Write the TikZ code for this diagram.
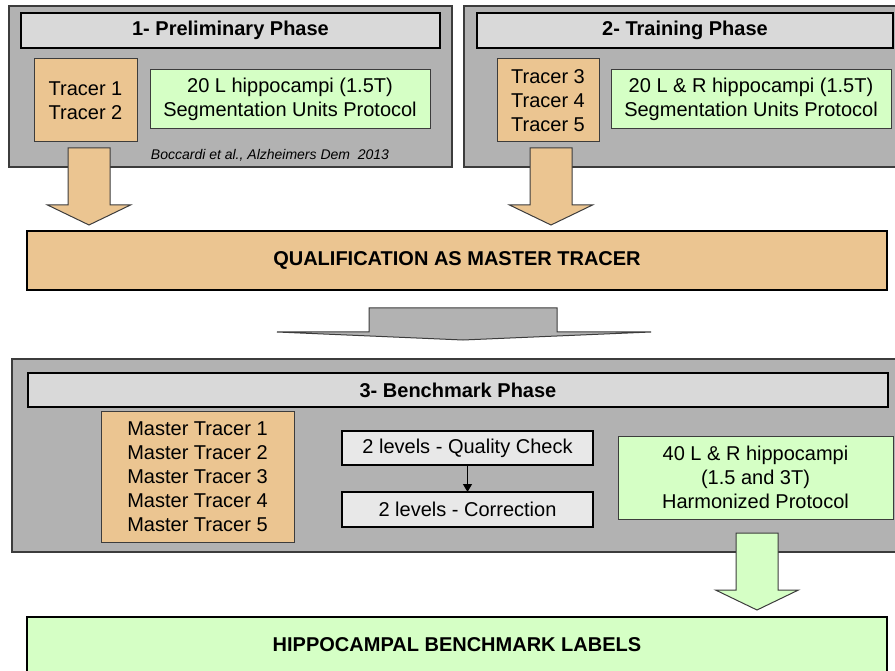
\documentclass[tikz,border=0pt]{standalone}
\usepackage{fontspec}
\setmainfont{Liberation Sans}
\usetikzlibrary{positioning,arrows.meta}

\definecolor{panelgray}  {RGB}{178,178,178}
\definecolor{bargray}    {RGB}{217,217,217}
\definecolor{boxgray}    {RGB}{232,232,232}
\definecolor{tracertan}  {RGB}{235,197,145}
\definecolor{labelgreen} {RGB}{213,255,197}
\definecolor{edgegray}   {RGB}{60 ,60 ,60 }

\begin{document}
\begin{tikzpicture}[
    x=1pt, y=-1pt,
    font={\fontsize{20}{24}\selectfont},
    every node/.style={inner sep=0pt, outer sep=0pt},
    panel/.style={draw=edgegray, line width=1.2pt, fill=panelgray},
    bar/.style={draw=black, line width=2pt, fill=bargray,
                font={\fontsize{20}{24}\selectfont\bfseries}},
    tracer/.style={draw=edgegray, line width=1pt, fill=tracertan, align=center},
    dataset/.style={draw=edgegray, line width=1pt, fill=labelgreen, align=center},
    check/.style={draw=black, line width=1.6pt, fill=boxgray},
    band/.style={draw=black, line width=1.2pt,
                 font={\fontsize{20}{24}\selectfont\bfseries}},
    pics/blockdown/.style={code={
        \draw[pic actions] (-21,0) -- (21,0) -- (21,57) -- (41.5,57)
            -- (0,77) -- (-41.5,57) -- (-21,57) -- cycle;}},
]
    \useasboundingbox (0,0) rectangle (895,671);

    % phase 1
    \node[panel, minimum width=443, minimum height=161] (prelim) at (230.5,86.5) {};
    \node[bar, minimum width=419, minimum height=35]    (prelimbar) at (230.5,30.5) {1- Preliminary Phase};
    \node[tracer, minimum width=103, minimum height=83] (tr12) at (85.5,100.5) {Tracer 1\\Tracer 2};
    \node[dataset, minimum width=280, minimum height=59, right=13pt of tr12, yshift=1pt] (set20l)
        {20 L hippocampi (1.5T)\\Segmentation Units Protocol};
    \node[font={\fontsize{14}{16}\selectfont\itshape}] (cite) at (270,155)
        {Boccardi et al., Alzheimers Dem\ \ 2013};

    % phase 2
    \node[panel, minimum width=436, minimum height=161] (train) at (682,86.5) {};
    \node[bar, minimum width=416, minimum height=35]    (trainbar) at (685,30.5) {2- Training Phase};
    \node[tracer, minimum width=102, minimum height=83] (tr345) at (548,100.5) {Tracer 3\\Tracer 4\\Tracer 5};
    \node[dataset, minimum width=280, minimum height=59, right=12pt of tr345, yshift=1pt] (set20lr)
        {20 L \& R hippocampi (1.5T)\\Segmentation Units Protocol};

    % qualification
    \node[band, fill=tracertan, minimum width=860, minimum height=59] (qual) at (457,260.5)
        {QUALIFICATION AS MASTER TRACER};
    \pic[draw=edgegray, fill=tracertan, line width=1pt] at (89,148)  {blockdown};
    \pic[draw=edgegray, fill=tracertan, line width=1pt] at (551,148) {blockdown};

    \draw[draw=edgegray, fill=panelgray, line width=1pt]
        (369,308) -- (557,308) -- (557,332) -- (651,332)
        -- (463,340) -- (277,332) -- (369,332) -- cycle;

    % phase 3
    \node[panel, minimum width=888, minimum height=193] (bench) at (456,455.5) {};
    \node[bar, minimum width=860, minimum height=34]    (benchbar) at (458,390) {3- Benchmark Phase};
    \node[tracer, minimum width=193, minimum height=131] (master) at (197.5,476.5)
        {Master Tracer 1\\Master Tracer 2\\Master Tracer 3\\Master Tracer 4\\Master Tracer 5};
    \node[check, minimum width=251, minimum height=34] (qc) at (467.5,448) {2 levels - Quality Check};
    \node[check, minimum width=251, minimum height=35, below=27pt of qc] (corr) {2 levels - Correction};
    \draw[-{Triangle[length=8pt,width=9pt]}, line width=1.2pt] (qc) -- (corr);
    \node[dataset, minimum width=275, minimum height=83] (set40) at (755.5,477.5)
        {40 L \& R hippocampi\\(1.5 and 3T)\\Harmonized Protocol};

    % output
    \pic[draw=edgegray, fill=labelgreen, line width=1pt] at (757,533) {blockdown};
    \node[band, fill=labelgreen, minimum width=860, minimum height=56] (labels) at (457,645)
        {HIPPOCAMPAL BENCHMARK LABELS};

\end{tikzpicture}
\end{document}
